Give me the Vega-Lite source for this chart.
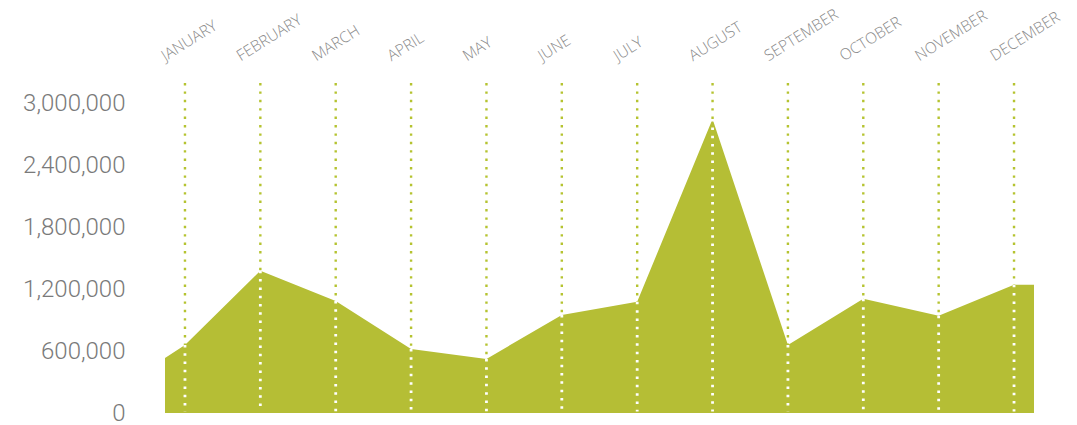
{
  "$schema": "https://vega.github.io/schema/vega-lite/v6.json",
  "width": 869,
  "height": 330,
  "autosize": {"type": "none"},
  "padding": {"left": 165, "top": 83, "right": 43, "bottom": 12},
  "background": "white",
  "config": {"view": {"stroke": null}},
  "datasets": {
    "area": [
      {"m": 0.735, "v": 534000},
      {"m": 1, "v": 660000},
      {"m": 2, "v": 1379000},
      {"m": 3, "v": 1087000},
      {"m": 4, "v": 621000},
      {"m": 5, "v": 524000},
      {"m": 6, "v": 951000},
      {"m": 7, "v": 1078000},
      {"m": 8, "v": 2850000},
      {"m": 9, "v": 660000},
      {"m": 10, "v": 1107000},
      {"m": 11, "v": 942000},
      {"m": 12, "v": 1243000},
      {"m": 12.265, "v": 1243000}
    ],
    "months": [
      {"m": 1, "name": "JANUARY", "v": 660000},
      {"m": 2, "name": "FEBRUARY", "v": 1379000},
      {"m": 3, "name": "MARCH", "v": 1087000},
      {"m": 4, "name": "APRIL", "v": 621000},
      {"m": 5, "name": "MAY", "v": 524000},
      {"m": 6, "name": "JUNE", "v": 951000},
      {"m": 7, "name": "JULY", "v": 1078000},
      {"m": 8, "name": "AUGUST", "v": 2850000},
      {"m": 9, "name": "SEPTEMBER", "v": 660000},
      {"m": 10, "name": "OCTOBER", "v": 1107000},
      {"m": 11, "name": "NOVEMBER", "v": 942000},
      {"m": 12, "name": "DECEMBER", "v": 1243000}
    ]
  },
  "layer": [
    {
      "data": {"name": "months"},
      "mark": {"type": "rule", "color": "#b5c330", "strokeWidth": 2.4, "strokeDash": [2.4, 6]},
      "encoding": {
        "x": {"field": "m", "type": "quantitative"}
      }
    },
    {
      "data": {"name": "area"},
      "mark": {"type": "area", "color": "#b5be35", "opacity": 1, "interpolate": "linear"},
      "encoding": {
        "x": {
          "field": "m", "type": "quantitative",
          "scale": {"domain": [0.735, 12.265], "nice": false, "zero": false},
          "axis": {
            "orient": "top",
            "values": [1,2,3,4,5,6,7,8,9,10,11,12],
            "labelExpr": "['JANUARY','FEBRUARY','MARCH','APRIL','MAY','JUNE','JULY','AUGUST','SEPTEMBER','OCTOBER','NOVEMBER','DECEMBER'][datum.value-1]",
            "labelAngle": -32,
            "labelAlign": "left",
            "labelBaseline": "alphabetic",
            "labelPadding": 22,
            "labelOffset": -20,
            "labelFont": "Open Sans",
            "labelFontWeight": 300,
            "labelFontSize": 15.5,
            "labelColor": "#8a8a8a",
            "labelOverlap": false,
            "labelBound": false,
            "ticks": false,
            "domain": false,
            "grid": false,
            "title": null
          }
        },
        "y": {
          "field": "v", "type": "quantitative",
          "scale": {"domain": [0, 3200000], "nice": false},
          "axis": {
            "values": [0, 600000, 1200000, 1800000, 2400000, 3000000],
            "format": ",d",
            "labelFont": "Roboto",
            "labelFontWeight": 300,
            "labelFontSize": 24,
            "labelColor": "#7a7a7a",
            "labelPadding": 40,
            "ticks": false,
            "domain": false,
            "grid": false,
            "title": null
          }
        }
      }
    },
    {
      "data": {"name": "months"},
      "mark": {"type": "rule", "color": "#ffffff", "strokeWidth": 2.8, "strokeDash": [2.5, 5.8]},
      "encoding": {
        "x": {"field": "m", "type": "quantitative"},
        "y": {"field": "v", "type": "quantitative"},
        "y2": {"datum": 15000}
      }
    }
  ]
}
